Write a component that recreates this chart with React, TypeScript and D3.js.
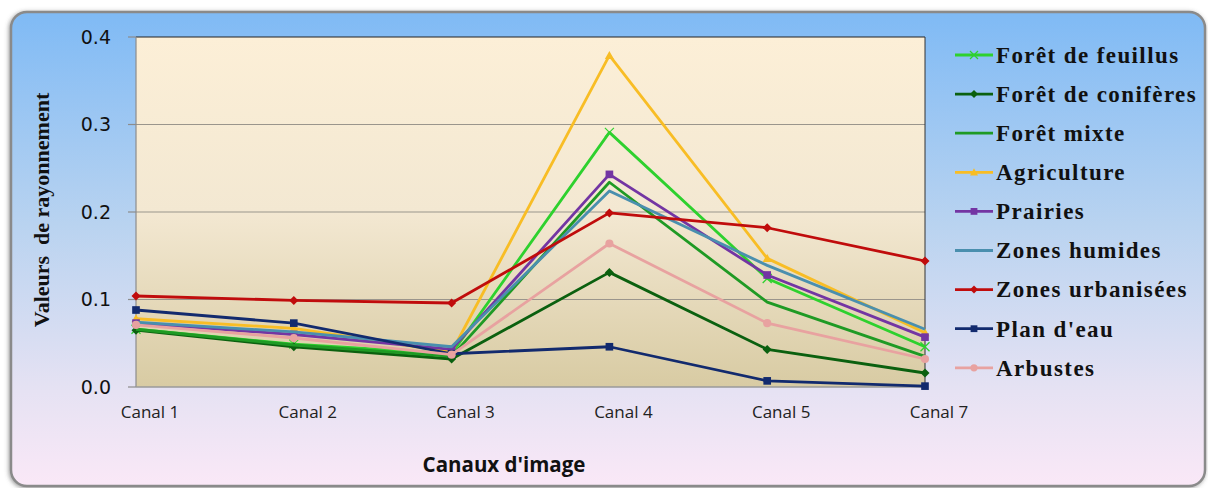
import React from "react";
import * as d3 from "d3";

const categories = ["Canal 1", "Canal 2", "Canal 3", "Canal 4", "Canal 5", "Canal 7"];
const yTicks = [0, 0.1, 0.2, 0.3, 0.4];

const seriesNames = [
  "Forêt de feuillus",
  "Forêt de conifères",
  "Forêt mixte",
  "Agriculture",
  "Prairies",
  "Zones humides",
  "Zones urbanisées",
  "Plan d'eau",
  "Arbustes",
];
const seriesColors = ["#2ed12e", "#0b600f", "#1f9a24", "#f8bd25", "#7335a3", "#4a8fae", "#c00c0c", "#122a6e", "#e8a2a0"];
const seriesMarkers = ["x", "diamond", "none", "triangle", "square", "none", "diamond", "square", "circle"];

const feuillus = [0.066, 0.049, 0.038, 0.291, 0.124, 0.046];
const coniferes = [0.065, 0.046, 0.032, 0.131, 0.043, 0.016];
const mixte = [0.066, 0.048, 0.035, 0.234, 0.097, 0.035];
const agriculture = [0.078, 0.067, 0.04, 0.379, 0.147, 0.062];
const prairies = [0.073, 0.06, 0.043, 0.243, 0.128, 0.057];
const humides = [0.074, 0.063, 0.046, 0.224, 0.139, 0.066];
const urbanisees = [0.104, 0.099, 0.096, 0.199, 0.182, 0.144];
const planEau = [0.088, 0.073, 0.038, 0.046, 0.007, 0.001];
const arbustes = [0.071, 0.056, 0.037, 0.164, 0.073, 0.032];

const seriesValues = [feuillus, coniferes, mixte, agriculture, prairies, humides, urbanisees, planEau, arbustes];

const W = 1208;
const H = 488;
const plot = { left: 136, right: 925, top: 37, bottom: 387 };

function Marker({ type, x, y, color, size }: { type: string; x: number; y: number; color: string; size: number }) {
  const s = size;
  if (type === "x") {
    return (
      <g stroke={color} strokeWidth={1.2}>
        <line x1={x - s} y1={y - s} x2={x + s} y2={y + s} />
        <line x1={x - s} y1={y + s} x2={x + s} y2={y - s} />
      </g>
    );
  }
  if (type === "diamond") {
    return <path d={`M${x},${y - s}L${x + s},${y}L${x},${y + s}L${x - s},${y}Z`} fill={color} />;
  }
  if (type === "square") {
    return <rect x={x - s * 0.85} y={y - s * 0.85} width={s * 1.7} height={s * 1.7} fill={color} />;
  }
  if (type === "triangle") {
    return <path d={`M${x},${y - s}L${x + s},${y + s * 0.8}L${x - s},${y + s * 0.8}Z`} fill={color} />;
  }
  if (type === "circle") {
    return <circle cx={x} cy={y} r={s * 0.9} fill={color} />;
  }
  return null;
}

export default function App() {
  const x = d3.scalePoint<string>().domain(categories).range([plot.left, plot.right]);
  const y = d3.scaleLinear().domain([0, 0.4]).range([plot.bottom, plot.top]);
  const line = d3
    .line<number>()
    .x((_, i) => x(categories[i]) as number)
    .y((d) => y(d));

  const legendX = 955;
  const legendY0 = 55;
  const legendStep = 39.1;

  return (
    <svg width={W} height={H} style={{ position: "absolute", left: 0, top: 0 }}>
      <defs>
        <linearGradient id="bg" x1="0" y1="0" x2="0" y2="1">
          <stop offset="0" stopColor="#7fbaf5" />
          <stop offset="0.45" stopColor="#b9d3f0" />
          <stop offset="0.8" stopColor="#e6e2f3" />
          <stop offset="1" stopColor="#fae8f7" />
        </linearGradient>
        <linearGradient id="plotbg" x1="0" y1="0" x2="0" y2="1">
          <stop offset="0" stopColor="#fcefd7" />
          <stop offset="0.5" stopColor="#f3e8d2" />
          <stop offset="1" stopColor="#d8cba3" />
        </linearGradient>
        <filter id="shadow" x="-2%" y="-2%" width="104%" height="104%">
          <feDropShadow dx="-1" dy="1" stdDeviation="2" floodColor="#555" floodOpacity="0.6" />
        </filter>
      </defs>
      <rect x={0} y={0} width={W} height={H} fill="#ffffff" />
      <rect
        x={11}
        y={12}
        width={1194}
        height={474}
        rx={16}
        ry={16}
        fill="url(#bg)"
        stroke="#8a8a8a"
        strokeWidth={2.5}
        filter="url(#shadow)"
      />
      {/* plot area */}
      <rect x={plot.left} y={plot.top} width={plot.right - plot.left} height={plot.bottom - plot.top} fill="url(#plotbg)" />
      {/* gridlines */}
      {yTicks.filter((t) => t > 0 && t < 0.4).map((t) => (
        <line key={t} x1={plot.left} x2={plot.right} y1={y(t)} y2={y(t)} stroke="#9a958c" strokeWidth={1.2} />
      ))}
      {/* borders */}
      <line x1={plot.left} x2={plot.right} y1={plot.top} y2={plot.top} stroke="#222" strokeWidth={1} />
      <line x1={plot.right} x2={plot.right} y1={plot.top} y2={plot.bottom} stroke="#333" strokeWidth={1} />
      <line x1={plot.left} x2={plot.left} y1={plot.top} y2={plot.bottom} stroke="#8c8c8c" strokeWidth={1.2} />
      <line x1={plot.left} x2={plot.right} y1={plot.bottom} y2={plot.bottom} stroke="#9a9a9a" strokeWidth={1.5} />
      {/* y ticks */}
      {yTicks.map((t) => (
        <g key={t}>
          <line x1={plot.left - 8} x2={plot.left} y1={y(t)} y2={y(t)} stroke="#8c8c8c" strokeWidth={1.2} />
          <text
            x={111}
            y={y(t)}
            dy="0.35em"
            textAnchor="end"
            fontFamily="DejaVu Sans, Verdana, sans-serif"
            fontSize={19}
            fill="#111"
          >
            {t.toFixed(1)}
          </text>
        </g>
      ))}
      {/* x labels */}
      {categories.map((c) => (
        <text
          key={c}
          x={(x(c) as number) + 14}
          y={418}
          textAnchor="middle"
          fontFamily="Open Sans, Liberation Sans, sans-serif"
          fontSize={17}
          fill="#222"
        >
          {c}
        </text>
      ))}
      {/* series */}
      {seriesValues.map((vals, si) => (
        <g key={si}>
          <path d={line(vals) || ""} fill="none" stroke={seriesColors[si]} strokeWidth={2.8} strokeLinejoin="round" />
          {vals.map((v, i) => (
            <Marker key={i} type={seriesMarkers[si]} x={x(categories[i]) as number} y={y(v)} color={seriesColors[si]} size={4.5} />
          ))}
        </g>
      ))}
      {/* axis titles */}
      <text
        x={504}
        y={472}
        textAnchor="middle"
        fontFamily="Open Sans, Liberation Sans, sans-serif"
        fontWeight="bold"
        fontSize={20.5}
        fill="#111"
      >
        Canaux d'image
      </text>
      <text
        transform={`translate(49,${210}) rotate(-90)`}
        textAnchor="middle"
        fontFamily="Liberation Serif, Times New Roman, serif"
        fontWeight="bold"
        fontSize={22}
        fill="#111"
        style={{ whiteSpace: "pre" }}
      >
        Valeurs  de rayonnement
      </text>
      {/* legend */}
      {seriesNames.map((name, si) => {
        const ly = legendY0 + si * legendStep;
        return (
          <g key={name}>
            <line x1={legendX} x2={legendX + 38} y1={ly} y2={ly} stroke={seriesColors[si]} strokeWidth={2.8} />
            <Marker type={seriesMarkers[si]} x={legendX + 19} y={ly} color={seriesColors[si]} size={4} />
            <text
              x={legendX + 41}
              y={ly}
              dy="0.34em"
              fontFamily="Liberation Serif, Times New Roman, serif"
              fontWeight="bold"
              fontSize={23}
              letterSpacing={1.4}
              fill="#111"
              style={{ whiteSpace: "pre" }}
            >
              {name}
            </text>
          </g>
        );
      })}
    </svg>
  );
}
